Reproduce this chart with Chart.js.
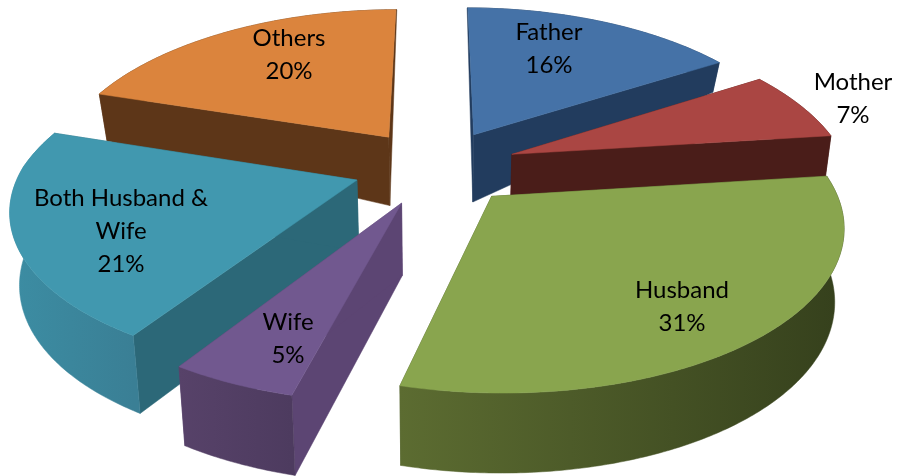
<!DOCTYPE html>
<html>
<head>
<meta charset="utf-8">
<style>html,body{margin:0;padding:0;background:#fff}canvas{display:block}</style>
<script src="https://cdn.jsdelivr.net/npm/chart.js@4"></script>
</head>
<body>
<canvas id="c" width="899" height="476"></canvas>
<script>
const categories = ["Father", "Mother", "Husband", "Wife", "Both Husband & Wife", "Others"];
const shares = [16, 7, 31, 5, 21, 20];
const topColors = ["#4572A7", "#AA4643", "#89A54E", "#71588F", "#4198AF", "#DB843D"];
const wallColors = ["#223C5E", "#4A1D19", "#4A5A28", "#5C4573", "#2C6878", "#5D3618"];
const rimLeftColors = ["#223C5E", "#4A1D19", "#5C6C31", "#574269", "#3C8DA3", "#5D3618"];
const rimRightColors = ["#223C5E", "#4A1D19", "#35401C", "#4D3B5F", "#3A7F95", "#5D3618"];
const labelCentres = [[549, 49], [853, 99], [682, 306.5], [288, 339], [121, 231], [289, 55]];

const view = {dx: -14, dy: -71, kx: 1.584, ky: 0.73, pxFar: 0.185, pxNear: 0.16, pyFar: 0.15, pyNear: 0.16, fold: 0.19, hFar: 70, hNear: 8, hMax: 69, shrink: 0.977};

function project(cx, cy, R, X, Y) {
  const px = Y > 0 ? view.pxFar : view.pxNear;
  const py = Y > 0 ? view.pyFar : view.pyNear;
  return {x: cx + X * R * view.kx / (1 + px * Y), y: cy - Y * R * view.ky / (1 + py * Y)};
}
function wallHeight(Y) {
  const h = Y > view.fold ? view.hMax - (Y - view.fold) * view.hFar : view.hMax + (view.fold - Y) * view.hNear;
  return Math.max(h, 0);
}
function poly(ctx, pts, fill) {
  ctx.beginPath();
  pts.forEach((p, i) => i ? ctx.lineTo(p.x, p.y) : ctx.moveTo(p.x, p.y));
  ctx.closePath();
  ctx.fillStyle = fill;
  ctx.fill();
  ctx.strokeStyle = fill;
  ctx.lineWidth = 0.5;
  ctx.stroke();
}

const pie3d = {
  id: "pie3d",
  beforeDatasetDraw(chart) {
    const ctx = chart.ctx;
    const arcs = chart.getDatasetMeta(0).data;
    const items = arcs.map((arc, i) => {
      const a0 = arc.startAngle + Math.PI / 2, a1 = arc.endAngle + Math.PI / 2;
      const mid = (a0 + a1) / 2, R = arc.outerRadius;
      const e = arc.options.offset / R;
      const ox = e * Math.sin(mid), oy = e * Math.cos(mid);
      const cx = arc.x + view.dx, cy = arc.y + view.dy;
      const top = (X, Y) => project(cx, cy, R, X, Y);
      const low = (X, Y) => {
        const p = top(X, Y);
        return {x: cx + (p.x - cx) * view.shrink, y: p.y + wallHeight(Y)};
      };
      const rim = [];
      const n = Math.max(8, Math.ceil((a1 - a0) * 90));
      for (let k = 0; k <= n; k++) {
        const t = a0 + (a1 - a0) * k / n;
        rim.push([ox + Math.sin(t), oy + Math.cos(t)]);
      }
      return {i, oy, ox, rim, top, low};
    });
    items.sort((a, b) => b.oy - a.oy);
    items.forEach(s => {
      const {i, ox, oy, rim, top, low} = s;
      const first = rim[0], last = rim[rim.length - 1];
      [first, last].forEach(q => {
        poly(ctx, [top(ox, oy), top(q[0], q[1]), low(q[0], q[1]), low(ox, oy)], wallColors[i]);
      });
      const rimTop = rim.map(q => top(q[0], q[1]));
      const rimLow = rim.map(q => low(q[0], q[1]));
      const xs = rimTop.map(p => p.x);
      const g = ctx.createLinearGradient(Math.min(...xs), 0, Math.max(...xs), 0);
      g.addColorStop(0, rimLeftColors[i]);
      g.addColorStop(1, rimRightColors[i]);
      poly(ctx, rimTop.concat(rimLow.slice().reverse()), g);
      poly(ctx, [top(ox, oy)].concat(rimTop), arcs[i].options.backgroundColor);
    });
    return false;
  },
  afterDatasetsDraw(chart) {
    const ctx = chart.ctx, lh = 33;
    ctx.save();
    ctx.font = "24px Lato";
    ctx.fillStyle = "#000";
    ctx.textAlign = "center";
    ctx.textBaseline = "middle";
    categories.forEach((name, i) => {
      const lines = [];
      if (ctx.measureText(name).width > 200) {
        const cut = name.lastIndexOf(" ");
        lines.push(name.slice(0, cut), name.slice(cut + 1));
      } else lines.push(name);
      lines.push(shares[i] + "%");
      const [x, y] = labelCentres[i];
      lines.forEach((t, k) => ctx.fillText(t, x, y + (k - (lines.length - 1) / 2) * lh));
    });
    ctx.restore();
  }
};

new Chart(document.getElementById("c"), {
  type: "pie",
  data: {
    labels: categories,
    datasets: [{data: shares, backgroundColor: topColors, borderWidth: 0, offset: 52}]
  },
  options: {
    responsive: false,
    animation: false,
    rotation: 0,
    plugins: {legend: {display: false}, tooltip: {enabled: false}}
  },
  plugins: [pie3d]
});
</script>
</body>
</html>
